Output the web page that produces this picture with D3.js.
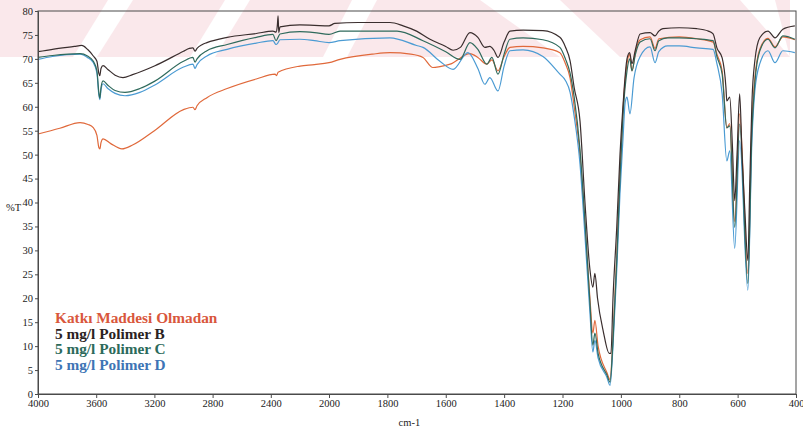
<!DOCTYPE html>
<html>
<head>
<meta charset="utf-8">
<script src="https://cdn.jsdelivr.net/npm/d3@7"></script>
<style>
  body { margin: 0; background: #fff; }
  svg { display: block; }
</style>
</head>
<body>
<svg id="chart" width="803" height="430"></svg>
<script>
// Axis ticks
const xTicks = [4000, 3600, 3200, 2800, 2400, 2000, 1800, 1600, 1400, 1200, 1000, 800, 600, 400];
const yTicks = [0, 5, 10, 15, 20, 25, 30, 35, 40, 45, 50, 55, 60, 65, 70, 75, 80];
const xTitle = "cm-1";
const yTitle = "%T";

// Series names (legend order)
const seriesNames = ["Katkı Maddesi Olmadan", "5 mg/l Polimer B", "5 mg/l Polimer C", "5 mg/l Polimer D"];

// Spectra: [wavenumber (cm-1), transmittance (%T)]
const katki = [
  [4000,54.3],[3850,55.5],[3711,56.7],[3656,56.3],[3622,55.7],[3595,54.0],[3582,51.5],[3575,51.2],
  [3567,52.5],[3553,53.3],[3500,52.3],[3423,51.2],[3350,52.0],[3200,55.0],[3000,59.4],[2935,59.9],
  [2921,59.4],[2907,60.2],[2839,61.9],[2700,63.8],[2500,65.8],[2371,66.8],[2360,66.5],[2350,67.2],
  [2199,68.5],[2100,68.8],[2000,69.2],[1962,69.9],[1850,71.0],[1791,71.3],[1720,71.0],[1678,70.3],
  [1644,68.2],[1620,68.4],[1585,68.9],[1517,71.1],[1490,70.3],[1459,68.9],[1442,69.8],[1421,67.5],
  [1400,70.5],[1380,72.4],[1335,72.6],[1267,72.3],[1209,71.3],[1190,69.0],[1174,66.0],[1160,60.0],
  [1140,50.0],[1123,35.0],[1106,20.0],[1096,12.7],[1089,15.4],[1078,10.0],[1048,4.5],[1037,3.0],
  [1027,12.0],[1014,29.0],[1003,46.0],[993,59.0],[979,69.0],[970,71.0],[962,67.5],[950,71.5],
  [934,74.0],[900,74.6],[883,72.2],[870,74.2],[800,74.6],[740,74.2],[684,73.5],[671,71.0],
  [653,67.5],[637,55.6],[627,56.5],[610,36.0],[593,58.5],[565,25.2],[551,57.0],[541,66.0],
  [524,72.0],[496,74.3],[472,72.5],[445,74.6],[404,74.0]
];
const polimerB = [
  [4000,71.5],[3900,72.0],[3750,72.6],[3700,72.8],[3660,72.0],[3620,70.6],[3595,69.5],[3582,67.0],
  [3575,66.5],[3567,68.0],[3553,68.6],[3520,67.8],[3470,66.6],[3416,66.1],[3350,66.7],[3200,68.5],
  [3000,71.6],[2960,72.2],[2935,72.3],[2921,71.6],[2907,72.2],[2870,73.0],[2839,73.4],[2700,74.5],
  [2500,75.3],[2385,75.8],[2364,75.6],[2355,77.0],[2350,79.0],[2345,75.5],[2337,76.7],[2200,77.1],
  [2100,77.0],[2000,76.9],[1980,77.4],[1900,77.6],[1791,77.6],[1746,76.9],[1700,75.8],[1654,74.1],
  [1600,72.6],[1575,71.8],[1550,72.4],[1517,75.5],[1490,74.5],[1466,72.4],[1449,72.6],[1435,71.8],
  [1421,70.3],[1400,73.5],[1380,75.8],[1335,76.0],[1267,75.9],[1209,74.5],[1190,72.5],[1174,69.6],
  [1160,64.0],[1140,57.0],[1123,40.0],[1106,26.0],[1096,22.3],[1089,25.2],[1080,20.0],[1060,13.0],
  [1040,8.5],[1034,8.5],[1027,20.0],[1014,35.0],[1003,50.0],[993,60.0],[979,70.0],[970,71.3],
  [962,69.0],[950,72.0],[934,75.2],[900,75.5],[883,74.8],[870,75.8],[856,76.3],[800,76.5],
  [740,76.3],[700,75.8],[684,75.2],[671,72.3],[653,70.2],[640,64.0],[637,61.2],[627,62.0],
  [618,52.0],[610,40.4],[602,50.0],[593,62.7],[585,50.0],[575,38.0],[565,27.9],[558,45.0],
  [551,61.0],[541,69.6],[524,74.4],[496,75.8],[472,74.4],[445,76.2],[404,76.9]
];
const polimerC = [
  [4000,70.3],[3900,70.7],[3711,71.1],[3660,70.6],[3622,69.6],[3595,67.5],[3582,63.0],[3575,61.8],
  [3567,64.0],[3553,65.4],[3520,64.5],[3470,63.4],[3402,63.0],[3300,63.8],[3200,65.3],[3000,69.5],
  [2935,70.3],[2921,69.3],[2907,70.0],[2839,71.7],[2700,73.0],[2500,74.5],[2385,75.1],[2364,73.8],
  [2350,74.5],[2337,75.2],[2200,75.7],[2100,75.5],[2000,75.1],[1962,75.8],[1767,75.8],[1678,73.8],
  [1600,71.5],[1551,69.9],[1517,73.4],[1490,72.0],[1459,68.9],[1442,70.3],[1421,66.8],[1400,71.0],
  [1380,74.1],[1335,74.4],[1267,74.0],[1209,72.4],[1190,70.0],[1174,67.0],[1160,62.0],[1140,51.0],
  [1123,36.0],[1106,19.0],[1096,10.2],[1089,12.7],[1078,8.5],[1048,4.0],[1037,2.5],[1027,11.0],
  [1014,28.0],[1003,45.0],[993,58.0],[979,67.5],[970,70.0],[962,67.5],[950,71.0],[934,73.5],
  [900,74.2],[883,71.7],[870,73.8],[840,74.4],[800,74.4],[740,74.2],[684,73.8],[671,70.5],
  [653,66.8],[637,55.6],[627,56.0],[610,34.8],[593,56.4],[565,23.1],[551,55.0],[541,65.0],
  [524,71.7],[496,74.1],[472,72.3],[445,74.8],[404,74.1]
];
const polimerD = [
  [4000,69.9],[3900,70.5],[3711,71.0],[3660,70.3],[3622,69.3],[3595,67.0],[3582,62.5],[3575,61.5],
  [3567,63.5],[3553,64.8],[3520,63.8],[3470,62.8],[3402,62.3],[3300,63.0],[3200,64.5],[3000,68.3],
  [2935,68.9],[2921,68.0],[2907,68.8],[2839,70.6],[2700,72.0],[2500,73.3],[2385,73.8],[2364,73.0],
  [2350,73.4],[2337,74.0],[2200,74.1],[2100,73.8],[2000,73.4],[1962,73.8],[1791,74.4],[1700,72.8],
  [1678,72.4],[1620,69.5],[1575,67.8],[1524,71.3],[1490,68.0],[1466,64.7],[1449,66.1],[1421,63.3],
  [1400,68.5],[1380,71.7],[1335,71.9],[1267,70.5],[1209,66.8],[1190,65.5],[1174,63.0],[1160,58.0],
  [1140,48.0],[1123,33.0],[1106,17.0],[1096,8.8],[1089,11.2],[1078,7.5],[1048,3.5],[1037,1.8],
  [1027,10.0],[1014,26.0],[1003,42.0],[993,53.0],[985,61.0],[979,62.0],[969,58.5],[955,66.0],
  [934,70.5],[900,72.5],[883,69.2],[870,71.5],[840,72.7],[800,72.7],[740,72.3],[684,72.0],
  [671,69.0],[653,62.7],[637,48.7],[627,50.8],[610,30.4],[593,52.9],[565,21.7],[551,53.0],
  [541,63.3],[524,69.0],[496,71.7],[472,69.2],[445,71.7],[404,71.3]
];

const series = [katki, polimerB, polimerC, polimerD];
const lineColors = ["#e0693b", "#3a2e2e", "#2f6a5c", "#4b9bd3"];
const legendColors = ["#d9573c", "#2b2222", "#2c6a5b", "#3e74b5"];

const serif = "'Liberation Serif', 'Times New Roman', Times, 'DejaVu Serif', serif";
const svg = d3.select("#chart");

// faint watermark band at the top of the sheet
const wm = svg.append("g").attr("opacity", 0.4);
wm.append("rect").attr("x", 0).attr("y", 0).attr("width", 790).attr("height", 57).attr("fill", "#f5c6cf");
const gaps = [
  [73, 97, 133, 108],    // "/" gaps: bottom-left, bottom-right, top-right, top-left
  [190, 215, 250, 225],
  [323, 347, 377, 352],
  [560, 620, 560, 480],  // "\" gaps on the right-hand part
  [790, 790, 775, 740]
];
gaps.forEach(([b0, b1, t1, t0]) => {
  wm.append("polygon").attr("points", `${b0},57 ${b1},57 ${t1},0 ${t0},0`).attr("fill", "#fff");
});

// scales: wavenumber axis changes scale at 2000 cm-1
const x = d3.scaleLinear().domain([4000, 2000, 400]).range([38, 329, 796]);
const y = d3.scaleLinear().domain([0, 80]).range([394, 11]);

// frame
svg.append("rect").attr("x", x(4000)).attr("y", y(80))
  .attr("width", x(400) - x(4000)).attr("height", y(0) - y(80))
  .attr("fill", "none").attr("stroke", "#4a4a4a").attr("stroke-width", 1);

// spectra
const line = d3.line().x(d => x(d[0])).y(d => y(d[1])).curve(d3.curveMonotoneX);
const drawOrder = [0, 3, 2, 1];
drawOrder.forEach(i => {
  svg.append("path").datum(series[i]).attr("d", line)
    .attr("fill", "none").attr("stroke", lineColors[i]).attr("stroke-width", 1.2)
    .attr("stroke-linejoin", "round");
});

// axes
const xAxis = svg.append("g").attr("transform", `translate(0,${y(0)})`)
  .call(d3.axisBottom(x).tickValues(xTicks).tickSize(4).tickPadding(2).tickFormat(d3.format("d")));
const yAxis = svg.append("g").attr("transform", `translate(${x(4000)},0)`)
  .call(d3.axisLeft(y).tickValues(yTicks).tickSize(3).tickPadding(2).tickFormat(d3.format("d")));
[xAxis, yAxis].forEach(g => {
  g.attr("font-family", serif).attr("font-size", 10.5);
  g.select(".domain").attr("stroke", "#4a4a4a");
  g.selectAll(".tick line").attr("stroke", "#4a4a4a");
  g.selectAll(".tick text").attr("fill", "#222");
});

// axis titles
svg.append("text").attr("x", x(1800) + 22).attr("y", 426).attr("text-anchor", "middle")
  .attr("font-family", serif).attr("fill", "#222").attr("font-size", 10.5).text(xTitle);
svg.append("text").attr("x", 6).attr("y", 211)
  .attr("font-family", serif).attr("fill", "#222").attr("font-size", 10.5).text(yTitle);

// legend
seriesNames.forEach((name, i) => {
  svg.append("text").attr("x", 55).attr("y", 323 + i * 15.5)
    .attr("font-family", serif).attr("fill", legendColors[i])
    .attr("font-size", 15.3).attr("font-weight", "bold")
    .text(name);
});
</script>
</body>
</html>
